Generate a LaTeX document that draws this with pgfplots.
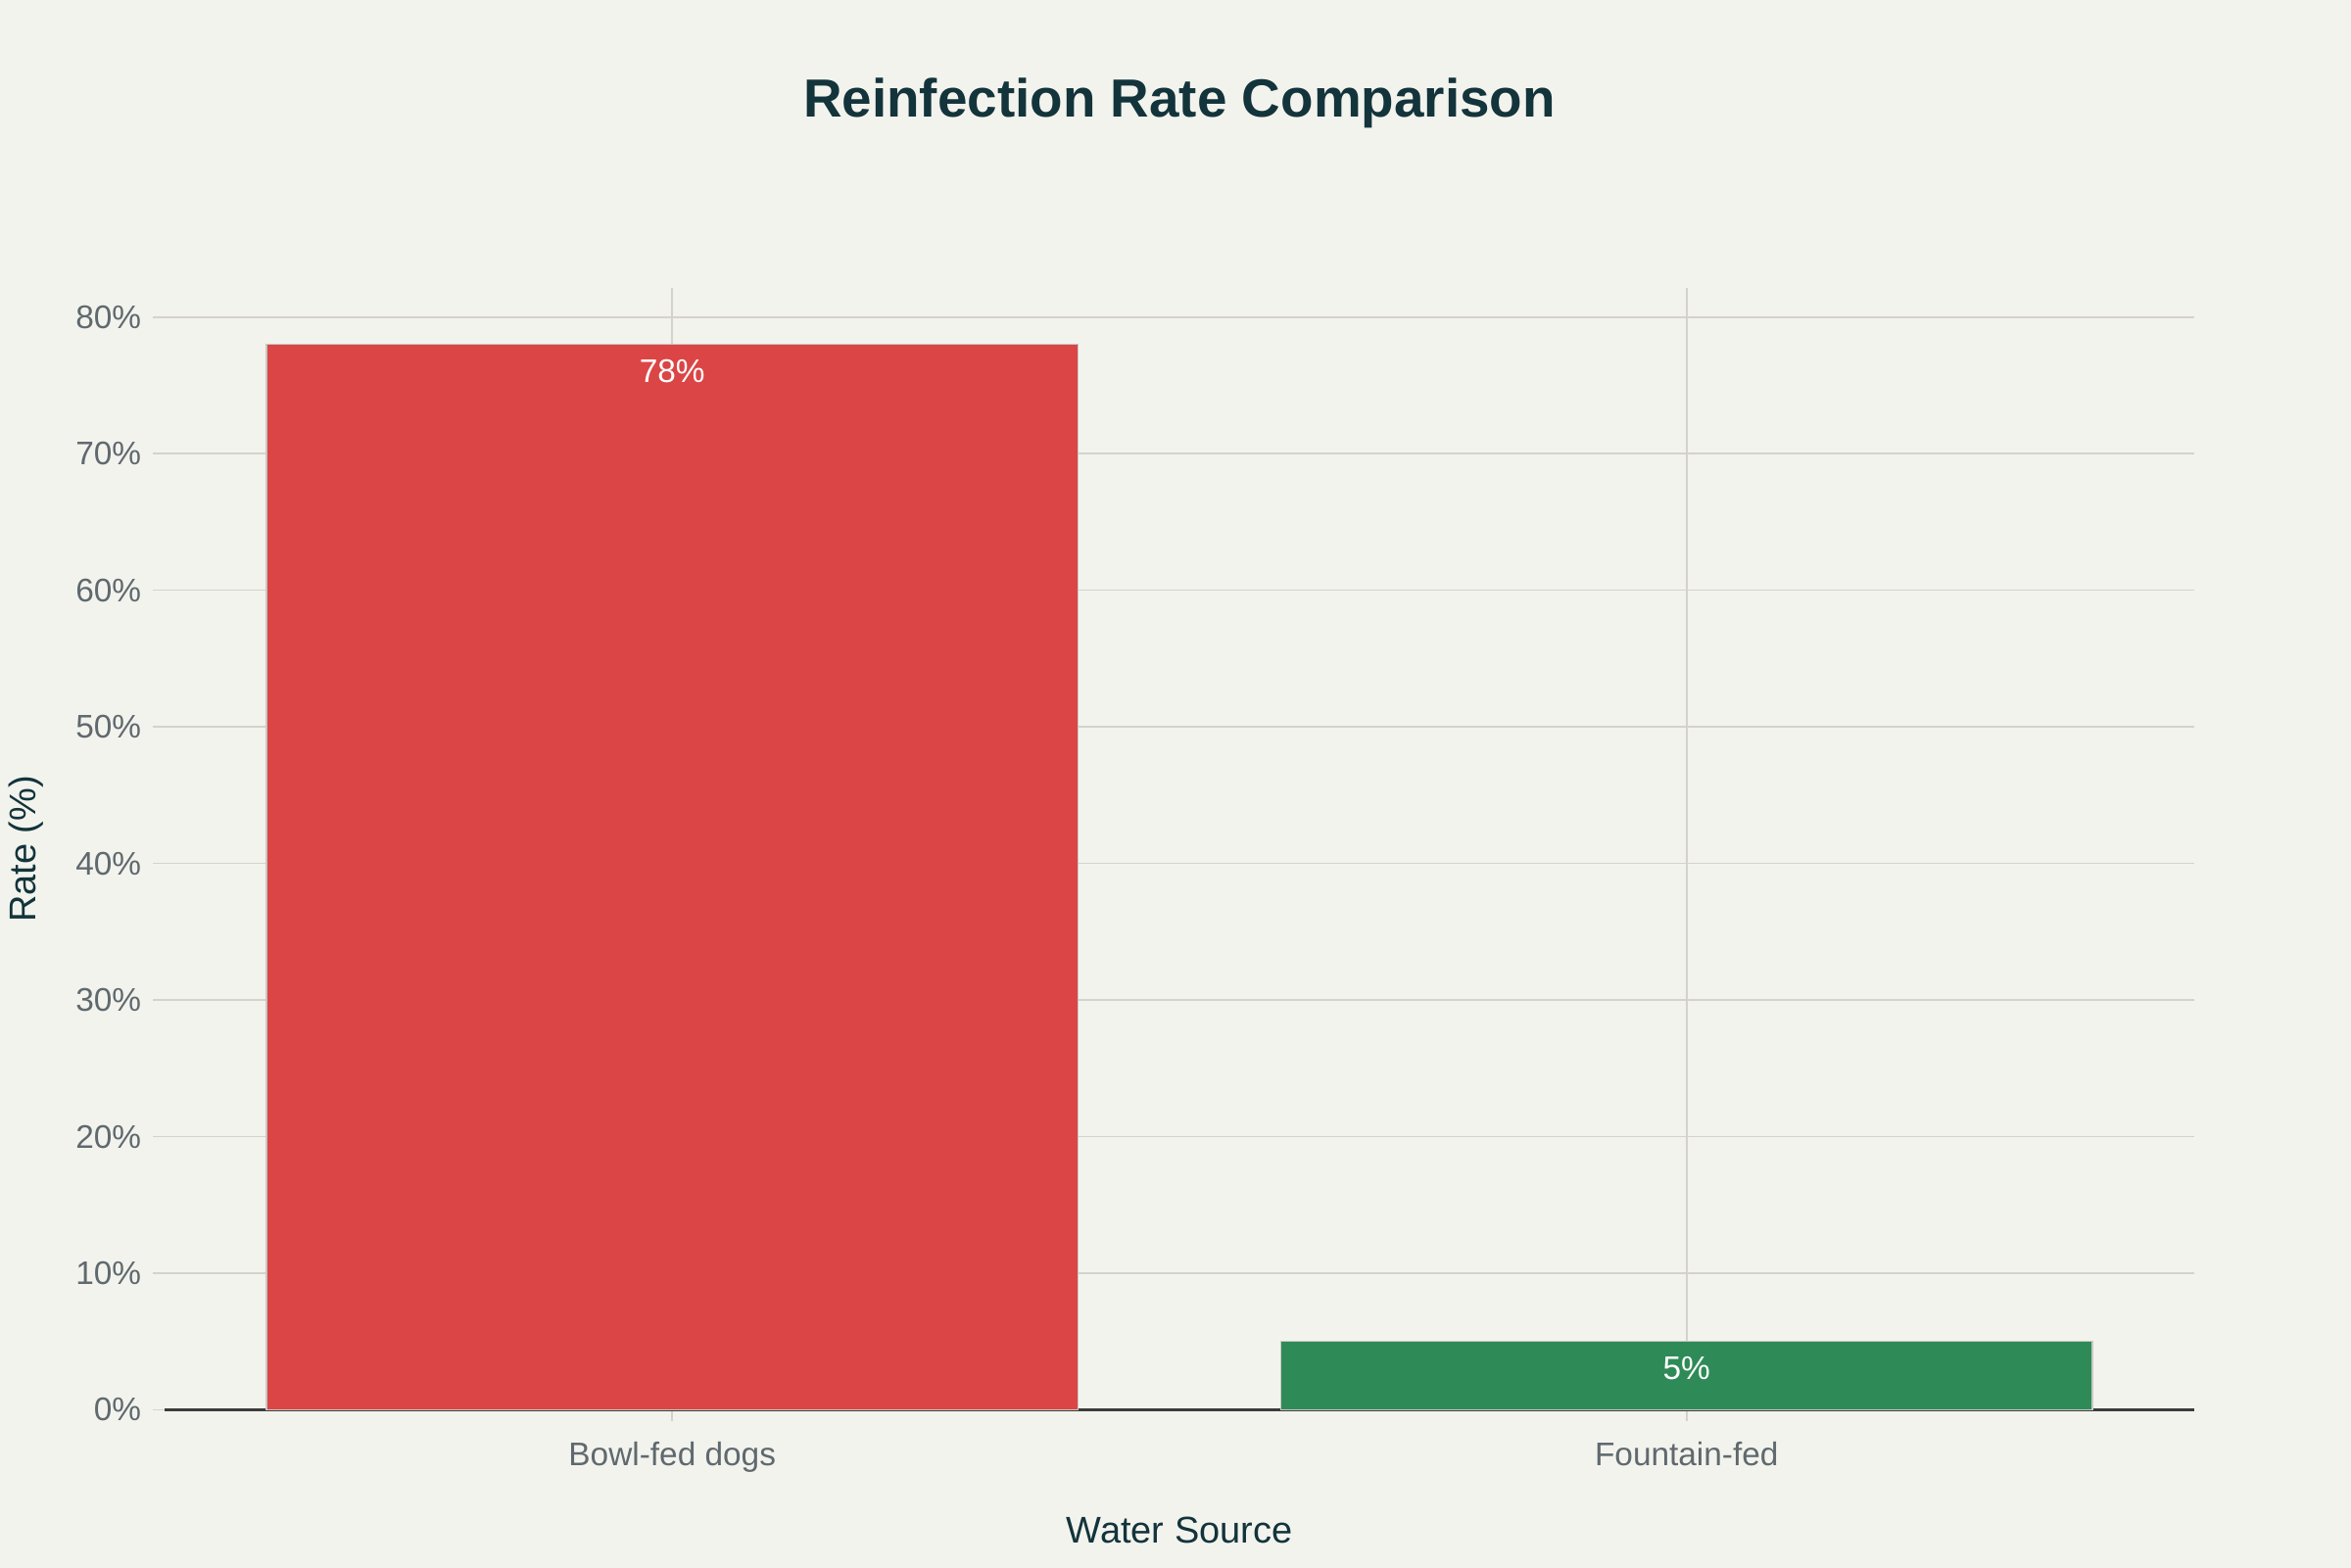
\documentclass[border=0pt]{standalone}
\usepackage{pgfplots}
\pgfplotsset{compat=1.18}
\usepackage{fontspec}
\setmainfont{Liberation Sans}
\definecolor{bg}{RGB}{243,243,238}
\definecolor{titlecol}{RGB}{19,52,59}
\definecolor{tickcol}{RGB}{95,105,110}
\definecolor{gridcol}{RGB}{213,210,204}
\definecolor{barred}{RGB}{219,69,69}
\definecolor{bargreen}{RGB}{46,139,87}
\definecolor{barline}{RGB}{200,200,195}
\definecolor{axcol}{RGB}{60,60,60}
\begin{document}
\begin{tikzpicture}[x=1cm,y=1cm]
\path[use as bounding box] (0,0) rectangle (24,16);
\fill[bg] (-0.1,-0.1) rectangle (24.1,16.1);
\begin{axis}[
  at={(1.685cm,1.605cm)}, anchor=south west,
  scale only axis, width=20.71cm, height=11.45cm,
  xmin=-0.5, xmax=1.5, ymin=0, ymax=82.1,
  xtick={0,1}, xticklabels={Bowl-fed dogs, Fountain-fed},
  ytick={0,10,...,80},
  yticklabel={\pgfmathprintnumber{\tick}\%},
  /pgf/number format/assume math mode=true,
  axis x line*=bottom, axis y line*=left,
  x axis line style={-, draw=axcol, line width=0.8pt},
  y axis line style={draw=none},
  tick align=outside, major tick length=0.12cm,
  tick style={draw=gridcol, line width=0.45pt},
  xmajorgrids, ymajorgrids,
  grid style={draw=gridcol, line width=0.45pt},
  ticklabel style={font=\fontsize{9.5}{11}\selectfont, text=tickcol},
  xticklabel style={yshift=-0.08cm},
  xlabel={Water Source}, ylabel={Rate (\%)},
  label style={font=\fontsize{10.8}{13}\selectfont, text=titlecol},
  xlabel style={at={(axis description cs:0.5,-0.1075)}, anchor=center},
  ylabel style={at={(axis description cs:-0.0686,0.5)}, anchor=center},
  title={Reinfection Rate Comparison},
  title style={at={(axis description cs:0.5,1.147)}, anchor=center,
    font=\fontsize{15.6}{18}\selectfont\bfseries, text=titlecol},
  ybar, bar width=0.8, bar shift=0pt,
  nodes near coords={\pgfmathprintnumber{\pgfplotspointmeta}\%},
  every node near coord/.append style={anchor=center, yshift=-0.27cm,
    text=white, font=\fontsize{9.5}{11}\selectfont},
]
\addplot[fill=barred, draw=barline, line width=0.4pt] coordinates {(0,78)};
\addplot[fill=bargreen, draw=barline, line width=0.4pt] coordinates {(1,5)};
\end{axis}
\end{tikzpicture}
\end{document}
